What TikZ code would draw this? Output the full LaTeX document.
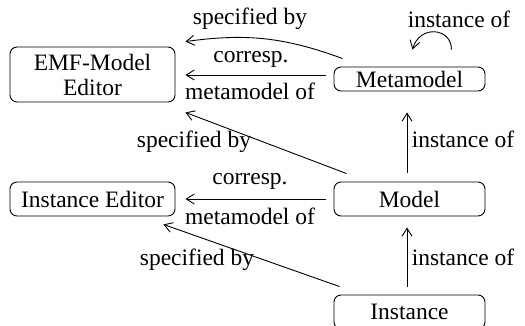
\documentclass[tikz,border=0pt]{standalone}
\usepackage{fontspec}
\setmainfont{Liberation Serif}
\usetikzlibrary{calc,arrows.meta}
\begin{document}
\begin{tikzpicture}[x=0.5pt,y=-0.5pt,
  font=\fontsize{11.75}{12.5}\selectfont,
  box/.style={draw,rounded corners=3.5pt,inner sep=0pt,align=center,line width=0.45pt},
  conn/.style={line width=0.45pt,-{Straight Barb[length=4pt,width=5pt,line width=0.45pt]}},
  lbl/.style={inner sep=0pt}]
\useasboundingbox (0,0) rectangle (525,326);
\node[box,minimum width=82.5pt,minimum height=27.5pt] (emf) at (92.5,74.5) {EMF-Model\\Editor};
\node[box,minimum width=75.5pt,minimum height=12pt] (meta) at (409.5,79) {Metamodel};
\node[box,minimum width=82.5pt,minimum height=17pt] (ied) at (92.5,199) {Instance Editor};
\node[box,minimum width=75.5pt,minimum height=17pt] (model) at (409.5,199) {Model};
\node[box,minimum width=75.5pt,minimum height=17pt] (inst) at (409.5,312) {Instance};
% connectors
\draw[conn] ($(meta.west)+(-8,-4)$) -- ($(meta.west -| emf.east)+(10,-4)$);
\draw[conn] ($(meta.north west)+(9,-8)$) to[bend right=14] ($(emf.north east)+(10,-5)$);
\draw[conn] ($(meta.north)+(42,-17)$) .. controls +(0,-22) and +(7,-25) .. ($(meta.north)+(3,-17)$);
\draw[conn] ($(model.north)+(-2.5,-9)$) -- ($(meta.south)+(-2.5,21)$);
\draw[conn] ($(model.north west)+(13,-8)$) -- ($(emf.south east)+(10,10)$);
\draw[conn] ($(model.west)+(-8,0)$) -- ($(model.west -| ied.east)+(10,0)$);
\draw[conn] ($(inst.north)+(-2.5,-8)$) -- ($(model.south)+(-2.5,11)$);
\draw[conn] ($(inst.north west)+(6,-8)$) -- ($(ied.south east)+(-12,8)$);
% labels
\node[lbl] (l1) at (250,19) {specified by};
\node[lbl] (l2) at (459,19) {instance of};
\node[lbl] (l3) at (251,59) {corresp.};
\node[lbl] (l4) at (250,91) {metamodel of};
\node[lbl] (l5) at (463,139) {instance of};
\node[lbl] (l6) at (194,142) {specified by};
\node[lbl] (l7) at (250,181) {corresp.};
\node[lbl] (l8) at (250,216) {metamodel of};
\node[lbl] (l9) at (463,257) {instance of};
\node[lbl] (l10) at (197,260) {specified by};
\end{tikzpicture}
\end{document}
